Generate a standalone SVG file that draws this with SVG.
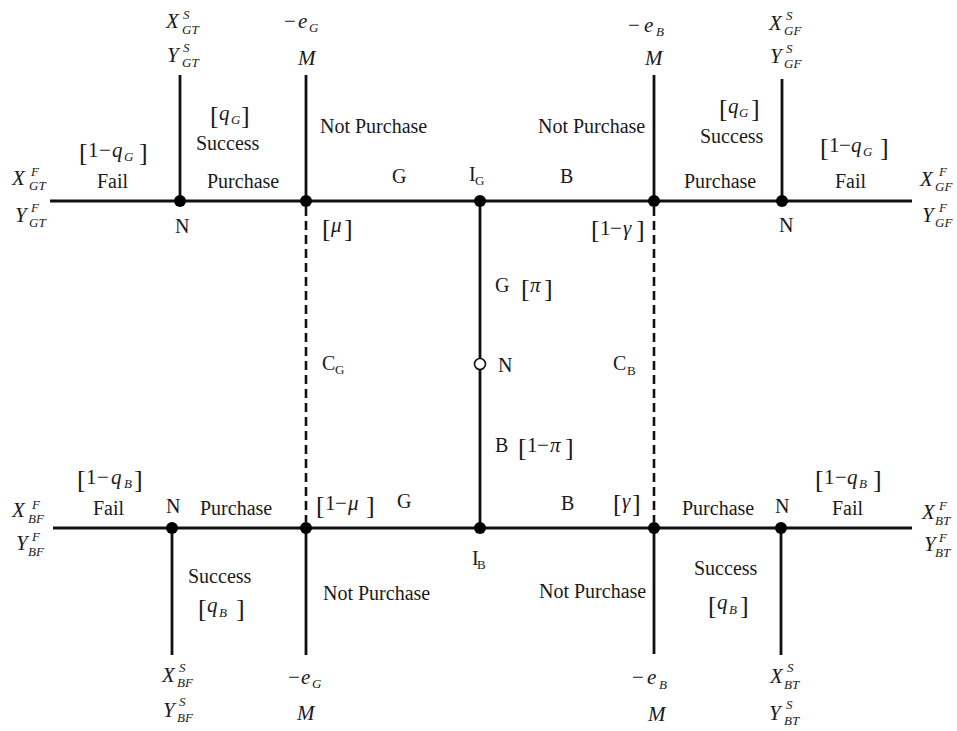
<svg xmlns="http://www.w3.org/2000/svg" width="957" height="731" viewBox="0 0 957 731">
<style>
text{font-family:"Liberation Serif","Times New Roman",serif;font-size:20px;fill:#1a1a1a}
.i{font-style:italic}
.m{font-size:21px}
.s{font-size:13px}
.br{font-size:26px}
.ln{stroke:#111;stroke-width:2.8;fill:none}
.dash{stroke:#111;stroke-width:2.6;stroke-dasharray:9 5;fill:none}
.dot{fill:#000}
.open{fill:#fff;stroke:#111;stroke-width:1.6}
</style>
<rect width="957" height="731" fill="#fff"/>
<g id="connectors">
<line class="ln" x1="50" y1="201" x2="912" y2="201"/>
<line class="ln" x1="53" y1="528" x2="912" y2="528"/>
<line class="ln" x1="480" y1="201" x2="480" y2="528"/>
<line class="ln" x1="180" y1="75" x2="180" y2="201"/>
<line class="ln" x1="306" y1="75" x2="306" y2="201"/>
<line class="ln" x1="654" y1="75" x2="654" y2="201"/>
<line class="ln" x1="782" y1="79" x2="782" y2="201"/>
<line class="ln" x1="172" y1="528" x2="172" y2="655"/>
<line class="ln" x1="306" y1="528" x2="306" y2="655"/>
<line class="ln" x1="654" y1="528" x2="654" y2="654"/>
<line class="ln" x1="781" y1="528" x2="781" y2="655"/>
<line class="dash" x1="306" y1="207" x2="306" y2="522"/>
<line class="dash" x1="654" y1="207" x2="654" y2="522"/>
</g>
<g id="labels">
<text x="97" y="188">Fail</text>
<text x="207" y="188">Purchase</text>
<text x="196" y="150">Success</text>
<text><tspan class="br" x="210" y="124">[</tspan><tspan class="i m" x="219" y="120">q</tspan><tspan class="i s" x="231" y="124">G</tspan><tspan class="br" x="241" y="124">]</tspan></text>
<text><tspan class="br" x="79" y="161">[</tspan><tspan class="m" x="88" y="157">1</tspan><tspan class="m" x="99" y="157">−</tspan><tspan class="i m" x="112" y="157">q</tspan><tspan class="i s" x="124" y="161">G</tspan><tspan class="br" x="139" y="161">]</tspan></text>
<text x="320" y="133">Not Purchase</text>
<text x="392" y="183">G</text>
<text x="560" y="183">B</text>
<text x="538" y="133">Not Purchase</text>
<text><tspan class="br" x="322" y="237">[</tspan><tspan class="i m" x="331" y="232">μ</tspan><tspan class="br" x="344" y="237">]</tspan></text>
<text><tspan class="br" x="591" y="238">[</tspan><tspan class="m" x="600" y="235">1</tspan><tspan class="m" x="610" y="235">−</tspan><tspan class="i m" x="623" y="235">γ</tspan><tspan class="br" x="636" y="238">]</tspan></text>
<text x="700" y="143">Success</text>
<text><tspan class="br" x="719" y="117">[</tspan><tspan class="i m" x="728" y="113">q</tspan><tspan class="i s" x="739" y="117">G</tspan><tspan class="br" x="751" y="117">]</tspan></text>
<text><tspan class="br" x="820" y="156">[</tspan><tspan class="m" x="829" y="152">1</tspan><tspan class="m" x="839" y="152">−</tspan><tspan class="i m" x="851" y="152">q</tspan><tspan class="i s" x="863" y="156">G</tspan><tspan class="br" x="880" y="156">]</tspan></text>
<text x="835" y="188">Fail</text>
<text x="684" y="188">Purchase</text>
<text x="495" y="292">G</text>
<text><tspan class="br" x="521" y="297">[</tspan><tspan class="i m" x="530" y="292">π</tspan><tspan class="br" x="544" y="297">]</tspan></text>
<text x="322" y="370">C<tspan class="s" x="335" y="374">G</tspan></text>
<text x="613" y="370">C<tspan class="s" x="627" y="375">B</tspan></text>
<text x="495" y="452">B</text>
<text><tspan class="br" x="518" y="456">[</tspan><tspan class="m" x="527" y="452">1</tspan><tspan class="m" x="537" y="452">−</tspan><tspan class="i m" x="550" y="452">π</tspan><tspan class="br" x="565" y="456">]</tspan></text>
<text><tspan class="br" x="77" y="488">[</tspan><tspan class="m" x="86" y="484">1</tspan><tspan class="m" x="97" y="484">−</tspan><tspan class="i m" x="111" y="484">q</tspan><tspan class="i s" x="124" y="488">B</tspan><tspan class="br" x="134" y="488">]</tspan></text>
<text x="93" y="515">Fail</text>
<text x="200" y="515">Purchase</text>
<text x="188" y="583">Success</text>
<text><tspan class="br" x="198" y="617">[</tspan><tspan class="i m" x="207" y="612">q</tspan><tspan class="i s" x="219" y="617">B</tspan><tspan class="br" x="236" y="617">]</tspan></text>
<text><tspan class="br" x="316" y="514">[</tspan><tspan class="m" x="325" y="510">1</tspan><tspan class="m" x="335" y="510">−</tspan><tspan class="i m" x="348" y="510">μ</tspan><tspan class="br" x="366" y="514">]</tspan></text>
<text x="397" y="508">G</text>
<text x="323" y="600">Not Purchase</text>
<text x="561" y="510">B</text>
<text><tspan class="br" x="613" y="512">[</tspan><tspan class="i m" x="622" y="508">γ</tspan><tspan class="br" x="632" y="512">]</tspan></text>
<text x="539" y="598">Not Purchase</text>
<text><tspan class="br" x="815" y="488">[</tspan><tspan class="m" x="824" y="484">1</tspan><tspan class="m" x="835" y="484">−</tspan><tspan class="i m" x="847" y="484">q</tspan><tspan class="i s" x="859" y="488">B</tspan><tspan class="br" x="873" y="488">]</tspan></text>
<text x="682" y="515">Purchase</text>
<text x="832" y="515">Fail</text>
<text x="694" y="575">Success</text>
<text><tspan class="br" x="708" y="614">[</tspan><tspan class="i m" x="717" y="609">q</tspan><tspan class="i s" x="729" y="614">B</tspan><tspan class="br" x="740" y="614">]</tspan></text>
</g>
<g id="node-IG"><circle class="dot" cx="480" cy="201" r="6"/><text x="469" y="181">I<tspan class="s" x="475" y="185">G</tspan></text></g>
<g id="node-IB"><circle class="dot" cx="480" cy="528" r="6"/><text x="472" y="565">I<tspan class="s" x="477" y="569">B</tspan></text></g>
<g id="node-N-center"><circle class="open" cx="480" cy="364" r="5.5"/><text x="498" y="372">N</text></g>
<g id="node-N-topleft"><circle class="dot" cx="180" cy="201" r="6"/><text x="175" y="233">N</text></g>
<g id="node-M-topleft"><circle class="dot" cx="306" cy="201" r="6"/></g>
<g id="node-M-topright"><circle class="dot" cx="654" cy="201" r="6"/></g>
<g id="node-N-topright"><circle class="dot" cx="782" cy="201" r="6"/><text x="779" y="232">N</text></g>
<g id="node-N-bottomleft"><circle class="dot" cx="172" cy="528" r="6"/><text x="166" y="513">N</text></g>
<g id="node-M-bottomleft"><circle class="dot" cx="306" cy="528" r="6"/></g>
<g id="node-M-bottomright"><circle class="dot" cx="654" cy="528" r="6"/></g>
<g id="node-N-bottomright"><circle class="dot" cx="781" cy="528" r="6"/><text x="775" y="513">N</text></g>
<g id="term-GT-S">
<text><tspan class="i m" x="166" y="28">X</tspan><tspan class="i s" x="183" y="19">S</tspan><tspan class="i s" x="182" y="34">GT</tspan></text>
<text><tspan class="i m" x="167" y="62">Y</tspan><tspan class="i s" x="183" y="52">S</tspan><tspan class="i s" x="182" y="67">GT</tspan></text>
</g>
<g id="term-GT-F">
<text><tspan class="i m" x="12" y="185">X</tspan><tspan class="i s" x="31" y="176">F</tspan><tspan class="i s" x="29" y="190">GT</tspan></text>
<text><tspan class="i m" x="15" y="222">Y</tspan><tspan class="i s" x="31" y="212">F</tspan><tspan class="i s" x="29" y="227">GT</tspan></text>
</g>
<g id="term-M-topleft">
<text><tspan class="m" x="284" y="28">−</tspan><tspan class="i m" x="298" y="28">e</tspan><tspan class="i s" x="309" y="32">G</tspan></text>
<text class="i m" x="298" y="65">M</text>
</g>
<g id="term-M-topright">
<text><tspan class="m" x="628" y="32">−</tspan><tspan class="i m" x="644" y="32">e</tspan><tspan class="i s" x="656" y="36">B</tspan></text>
<text class="i m" x="645" y="65">M</text>
</g>
<g id="term-GF-S">
<text><tspan class="i m" x="769" y="30">X</tspan><tspan class="i s" x="786" y="20">S</tspan><tspan class="i s" x="784" y="35">GF</tspan></text>
<text><tspan class="i m" x="770" y="63">Y</tspan><tspan class="i s" x="786" y="53">S</tspan><tspan class="i s" x="784" y="68">GF</tspan></text>
</g>
<g id="term-GF-F">
<text><tspan class="i m" x="920" y="186">X</tspan><tspan class="i s" x="939" y="176">F</tspan><tspan class="i s" x="935" y="191">GF</tspan></text>
<text><tspan class="i m" x="922" y="222">Y</tspan><tspan class="i s" x="939" y="212">F</tspan><tspan class="i s" x="935" y="227">GF</tspan></text>
</g>
<g id="term-BF-F">
<text><tspan class="i m" x="12" y="517">X</tspan><tspan class="i s" x="32" y="509">F</tspan><tspan class="i s" x="28" y="523">BF</tspan></text>
<text><tspan class="i m" x="16" y="550">Y</tspan><tspan class="i s" x="32" y="541">F</tspan><tspan class="i s" x="28" y="556">BF</tspan></text>
</g>
<g id="term-BF-S">
<text><tspan class="i m" x="162" y="682">X</tspan><tspan class="i s" x="179" y="672">S</tspan><tspan class="i s" x="177" y="687">BF</tspan></text>
<text><tspan class="i m" x="163" y="717">Y</tspan><tspan class="i s" x="179" y="706">S</tspan><tspan class="i s" x="177" y="722">BF</tspan></text>
</g>
<g id="term-M-bottomleft">
<text><tspan class="m" x="288" y="684">−</tspan><tspan class="i m" x="301" y="684">e</tspan><tspan class="i s" x="312" y="688">G</tspan></text>
<text class="i m" x="297" y="720">M</text>
</g>
<g id="term-M-bottomright">
<text><tspan class="m" x="632" y="684">−</tspan><tspan class="i m" x="647" y="684">e</tspan><tspan class="i s" x="659" y="689">B</tspan></text>
<text class="i m" x="648" y="721">M</text>
</g>
<g id="term-BT-S">
<text><tspan class="i m" x="770" y="683">X</tspan><tspan class="i s" x="787" y="672">S</tspan><tspan class="i s" x="784" y="689">BT</tspan></text>
<text><tspan class="i m" x="769" y="720">Y</tspan><tspan class="i s" x="786" y="709">S</tspan><tspan class="i s" x="784" y="725">BT</tspan></text>
</g>
<g id="term-BT-F">
<text><tspan class="i m" x="922" y="519">X</tspan><tspan class="i s" x="939" y="510">F</tspan><tspan class="i s" x="935" y="525">BT</tspan></text>
<text><tspan class="i m" x="924" y="551">Y</tspan><tspan class="i s" x="939" y="542">F</tspan><tspan class="i s" x="935" y="557">BT</tspan></text>
</g>
</svg>
